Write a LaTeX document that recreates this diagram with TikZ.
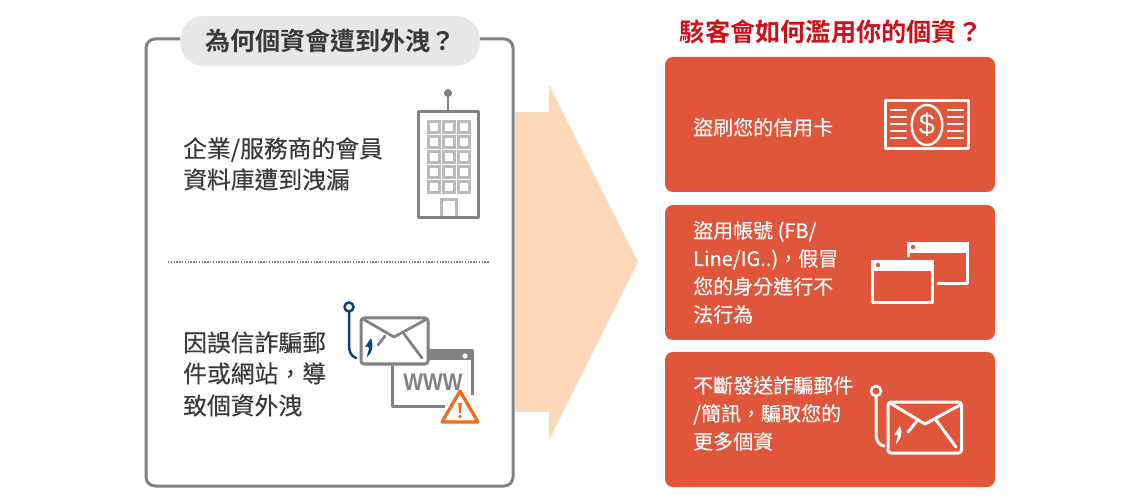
\documentclass[tikz,border=0pt]{standalone}
\usepackage{fontspec}
\setmainfont{Noto Sans CJK TC}[FakeBold=0.25]
\newfontfamily\boldcjk{Noto Sans CJK TC Bold}
\newfontfamily\wwwfont{Liberation Sans}
\definecolor{txt}{HTML}{3A3A3A}
\definecolor{boxgray}{HTML}{808285}
\definecolor{wingray}{HTML}{B9BABC}
\definecolor{pill}{HTML}{E6E7E8}
\definecolor{redbox}{HTML}{E0563B}
\definecolor{peach}{HTML}{FDD9BA}
\definecolor{navy}{HTML}{0B4379}
\definecolor{warn}{HTML}{F26A1B}
\definecolor{redtitle}{HTML}{CE1019}
\tikzset{
 lefttext/.style={anchor=west,inner sep=0pt,text=txt,font=\fontsize{23.8}{25}\selectfont,text height=18pt,text depth=3pt},
 righttext/.style={anchor=west,inner sep=0pt,text=white,font=\fontsize{20}{22}\selectfont,text height=15pt,text depth=3pt},
 redcard/.style={fill=redbox,rounded corners=8pt,draw=none},
 icong/.style={draw=boxgray,line width=3pt,line join=round},
 winbox/.style={draw=wingray,line width=3pt},
 iconw/.style={draw=white,line width=3pt,line cap=round,line join=round},
 hook/.style={line width=2.5pt,line cap=round}
}
\begin{document}
\begin{tikzpicture}[x=1pt,y=-1pt]
\useasboundingbox[fill=white] (0,0) rectangle (1140,502);
% left frame
\draw[draw=boxgray,line width=3pt,rounded corners=9pt] (146,39) rectangle (513,486);
\fill[pill,rounded corners=24pt] (180,16) rectangle (480,66);
\node[anchor=center,inner sep=0pt,text=txt,font=\boldcjk\fontsize{25.1}{27}\selectfont] (t1) at (330.5,41) {為何個資會遭到外洩？};
% arrow
\fill[peach] (515,112) -- (549,112) -- (549,85) -- (638,262) -- (549,440) -- (549,412) -- (515,412) -- cycle;
% dotted
\draw[boxgray,line width=1.3pt,dash pattern=on 1.3pt off 1.5pt] (168,262) -- (490,262);
% left text
\node[lefttext] (a1) at (183,150) {企業/服務商的會員};
\node[lefttext] (a2) at (183,181) {資料庫遭到洩漏};
\node[lefttext] (b1) at (183,344) {因誤信詐騙郵};
\node[lefttext] (b2) at (183,375) {件或網站，導};
\node[lefttext] (b3) at (183,407) {致個資外洩};
% building
\draw[boxgray,line width=2.4pt] (448,112) -- (448,95);
\fill[boxgray] (448,93) circle (4);
\foreach \x in {428,443,458}\foreach \y in {122,137,152,167,182}
  \draw[winbox] (\x,\y) rectangle +(11,11);
\draw[winbox] (441,217) -- (441,200) -- (456,200) -- (456,217);
\draw[icong] (418,112) rectangle (478,218);
% browser
\draw[icong] (472,395) -- (472,351) -- (392,351) -- (392,406) -- (445,406);
\fill[boxgray] (392,351) rectangle (472,360);
\fill[white] (465,356) circle (2.6);
\node[inner sep=0pt,text=boxgray,xscale=0.87,font=\wwwfont\fontsize{24}{25}\bfseries\selectfont] (www) at (433,382) {WWW};
% envelope 1
\draw[icong,fill=white,rounded corners=3pt] (361,318) rectangle (428,364);
\draw[boxgray,line width=2.8pt,line join=round,line cap=round] (363,319) -- (394,337) -- (427,319);
\draw[boxgray,line width=2.8pt,line cap=round] (385,336) -- (378,345);
\draw[boxgray,line width=2.8pt,line cap=round] (404,334) -- (422,358);
% hook 1
\draw[navy,line width=2.5pt] (349,307) circle (4.5);
\draw[navy,hook] (349,312) -- (349,345) .. controls (349,352) and (351,356) .. (356,358);
\fill[navy] (367,357) .. controls (372,353) and (374,347) .. (371,338) -- (365,347) .. controls (367,346.5) and (369,346) .. (369,348) .. controls (369,352) and (366,354) .. (367,357) -- cycle;
% warning
\draw[warn,fill=white,line width=3.2pt,line join=round] (460,391) -- (478,422) -- (442,422) -- cycle;
\fill[warn] (458.2,403) -- (461.8,403) -- (461,413) -- (459,413) -- cycle;
\fill[warn] (460,416.5) circle (1.8);
% right title
\node[anchor=center,inner sep=0pt,text=redtitle,font=\boldcjk\fontsize{25.2}{27}\selectfont] (t2) at (831,32) {駭客會如何濫用你的個資？};
% cards
\fill[redcard] (665,57) rectangle (995,192);
\fill[redcard] (665,205) rectangle (995,340);
\fill[redcard] (665,352) rectangle (995,487);
\node[righttext] (c1) at (693,129) {盜刷您的信用卡};
\node[righttext] (d1) at (693,232) {盜用帳號 (FB/};
\node[righttext] (d2) at (693,260) {Line/IG..)，假冒};
\node[righttext] (d3) at (693,288) {您的身分進行不};
\node[righttext] (d4) at (693,316) {法行為};
\node[righttext] (e1) at (693,387) {不斷發送詐騙郵件};
\node[righttext] (e2) at (693,415) {/簡訊，騙取您的};
\node[righttext] (e3) at (693,443) {更多個資};
% money
\draw[iconw] (885,101) rectangle (968.5,149);
\draw[iconw,line width=2.4pt] (927,125) ellipse (15.3 and 20);
\node[inner sep=0pt,text=white,font=\wwwfont\fontsize{29}{30}\selectfont] (dollar) at (927,125) {\$};
\foreach \y in {110,117,124,131,138}{
  \draw[iconw,line width=2.4pt] (891,\y) -- (906,\y);
  \draw[iconw,line width=2.4pt] (948,\y) -- (963,\y);
}
% windows
\draw[iconw] (908,256) -- (908,244) -- (967.5,244) -- (967.5,284) -- (938,284);
\fill[white] (906.5,242.5) rectangle (969,253);
\fill[redbox] (913,247) circle (2.2);
\draw[iconw] (872,262) rectangle (932,303);
\fill[white] (870.5,260.5) rectangle (933.5,271);
\fill[redbox] (878,265) circle (2.2);
% envelope 2
\draw[iconw,rounded corners=3pt] (888,402) rectangle (961.5,453);
\draw[iconw] (890,403) -- (925,424) -- (960,405);
\draw[iconw] (917,421) -- (908,432);
\draw[iconw] (936,420) -- (956,447);
\draw[white,line width=2.5pt] (876,391) circle (5);
\draw[iconw] (876,396) -- (876,434) .. controls (876,441) and (879,445) .. (884,446);
\fill[white] (896,444) .. controls (901,439) and (903,434) .. (900,426) -- (894,435) .. controls (896,434.5) and (898,434) .. (898,436) .. controls (898,439) and (895,441) .. (896,444) -- cycle;
\end{tikzpicture}
\end{document}
